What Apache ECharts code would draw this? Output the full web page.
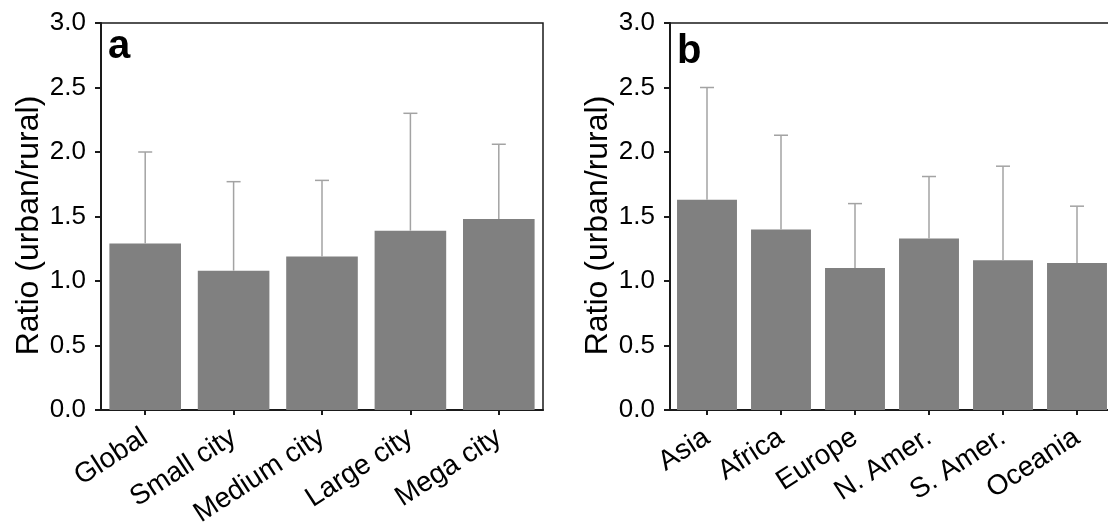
<!DOCTYPE html>
<html>
<head>
<meta charset="utf-8">
<script src="https://cdn.jsdelivr.net/npm/echarts@6/dist/echarts.min.js"></script>
<style>
  html, body { margin: 0; padding: 0; background: #fff; }
  #main { width: 1108px; height: 527px; }
</style>
</head>
<body>
<div id="main"></div>
<script>
// panel a: city size
var catsA = ['Global', 'Small city', 'Medium city', 'Large city', 'Mega city'];
var meanA = [1.29, 1.08, 1.19, 1.39, 1.48];
var upperA = [2.00, 1.77, 1.78, 2.30, 2.06];

// panel b: continents
var catsB = ['Asia', 'Africa', 'Europe', 'N. Amer.', 'S. Amer.', 'Oceania'];
var meanB = [1.63, 1.40, 1.10, 1.33, 1.16, 1.14];
var upperB = [2.50, 2.13, 1.60, 1.81, 1.89, 1.58];

var yTicks = [0, 0.5, 1.0, 1.5, 2.0, 2.5, 3.0];

var FONT = 'Liberation Sans, Arial, sans-serif';
var AXIS_COLOR = '#1a1a1a';

var myChart = echarts.init(document.getElementById('main'));

// 误差线：只画上半部分
function errRender(params, api) {
    var i = api.value(0);
    var p0 = api.coord([i, api.value(1)]);
    var p1 = api.coord([i, api.value(2)]);
    var st = { stroke: '#a3a3a3', lineWidth: 1.5 };
    return {
        type: 'group',
        children: [
            { type: 'line', shape: { x1: p0[0], y1: p0[1], x2: p1[0], y2: p1[1] }, style: st },
            { type: 'line', shape: { x1: p1[0] - 7, y1: p1[1], x2: p1[0] + 7, y2: p1[1] }, style: st }
        ]
    };
}

function xAxisCfg(idx, cats) {
    return {
        gridIndex: idx,
        type: 'category',
        data: cats,
        axisLine: { show: true, lineStyle: { color: AXIS_COLOR, width: 2 } },
        axisTick: { show: true, alignWithLabel: true, length: 5, lineStyle: { color: AXIS_COLOR, width: 2 } },
        axisLabel: {
            interval: 0, rotate: 33, margin: 25,
            color: '#000', fontSize: 28, fontFamily: FONT
        },
        splitLine: { show: false }
    };
}

function yAxisCfg(idx) {
    return {
        gridIndex: idx,
        type: 'value',
        min: yTicks[0],
        max: yTicks[yTicks.length - 1],
        interval: 0.5,
        name: 'Ratio (urban/rural)',
        nameLocation: 'middle',
        nameGap: 56,
        nameTextStyle: { color: '#000', fontSize: 32, fontFamily: FONT, padding: [0, 18, 0, 0] },
        axisLine: { show: true, lineStyle: { color: AXIS_COLOR, width: 2 } },
        axisTick: { show: true, length: 6, lineStyle: { color: AXIS_COLOR, width: 2 } },
        axisLabel: {
            margin: 15, color: '#000', fontSize: 26, fontFamily: FONT,
            formatter: function (v) { return v.toFixed(1); }
        },
        splitLine: { show: false }
    };
}

var option = {
    backgroundColor: '#fff',
    animation: false,
    grid: [
        { left: 101, top: 23, width: 442, height: 387, outerBoundsMode: 'none', show: true, borderColor: AXIS_COLOR, borderWidth: 1.5, backgroundColor: 'transparent' },
        { left: 670, top: 23, width: 444, height: 387, outerBoundsMode: 'none', show: true, borderColor: AXIS_COLOR, borderWidth: 1.5, backgroundColor: 'transparent' }
    ],
    graphic: [
        { type: 'text', left: 108, top: 27, style: { text: 'a', font: 'bold 40px ' + FONT, fill: '#000' } },
        { type: 'text', left: 677, top: 32, style: { text: 'b', font: 'bold 40px ' + FONT, fill: '#000' } }
    ],
    xAxis: [xAxisCfg(0, catsA), xAxisCfg(1, catsB)],
    yAxis: [yAxisCfg(0), yAxisCfg(1)],
    series: [
        {
            type: 'bar', xAxisIndex: 0, yAxisIndex: 0, data: meanA,
            barCategoryGap: '19%', itemStyle: { color: '#808080' }
        },
        {
            type: 'custom', xAxisIndex: 0, yAxisIndex: 0, z: 3,
            renderItem: errRender,
            data: catsA.map(function (c, i) { return [i, meanA[i], upperA[i]]; })
        },
        {
            type: 'bar', xAxisIndex: 1, yAxisIndex: 1, data: meanB,
            barCategoryGap: '19%', itemStyle: { color: '#808080' }
        },
        {
            type: 'custom', xAxisIndex: 1, yAxisIndex: 1, z: 3,
            renderItem: errRender,
            data: catsB.map(function (c, i) { return [i, meanB[i], upperB[i]]; })
        }
    ]
};

myChart.setOption(option);
</script>
</body>
</html>
